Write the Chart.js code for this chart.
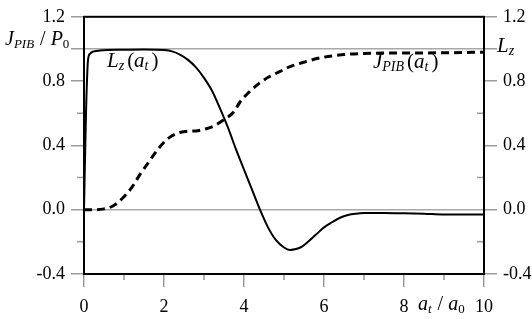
<!DOCTYPE html>
<html>
<head>
<meta charset="utf-8">
<script src="https://cdn.jsdelivr.net/npm/chart.js@4/dist/chart.umd.min.js"></script>
<style>
  html, body { margin: 0; padding: 0; background: #fff; }
  #wrap { width: 532px; height: 319px; }
</style>
</head>
<body>
<div id="wrap"><canvas id="chart"></canvas></div>
<script>
// solid curve L_z(a_t)
var lzAt   = [0, 0.05, 0.1, 0.15, 0.25, 0.4, 1.0, 1.5, 2.0, 2.2, 2.4, 2.6, 2.8, 3.0, 3.2, 3.4, 3.6, 3.8, 4.0, 4.2, 4.4, 4.6, 4.8, 5.0, 5.15, 5.3, 5.45, 5.6, 5.8, 6.0, 6.2, 6.4, 6.6, 6.8, 7.0, 7.5, 8.0, 8.5, 9.0, 9.5, 10];
var lzVals = [0, 0.6, 0.93, 0.97, 0.985, 0.99, 0.995, 0.997, 0.993, 0.985, 0.965, 0.932, 0.885, 0.82, 0.74, 0.63, 0.51, 0.375, 0.25, 0.125, 0.0, -0.11, -0.19, -0.235, -0.25, -0.245, -0.23, -0.2, -0.155, -0.11, -0.078, -0.05, -0.033, -0.025, -0.021, -0.02, -0.022, -0.025, -0.03, -0.03, -0.03];

// dashed curve J_PIB(a_t)
var jAt   = [0, 0.3, 0.5, 0.7, 0.85, 1.0, 1.2, 1.4, 1.6, 1.8, 2.0, 2.2, 2.4, 2.6, 2.8, 3.0, 3.2, 3.5, 3.75, 3.9, 4.1, 4.4, 4.65, 4.9, 5.15, 5.4, 5.9, 6.5, 7, 8, 9, 10];
var jVals = [0, 0, 0.005, 0.02, 0.045, 0.08, 0.14, 0.22, 0.29, 0.36, 0.42, 0.46, 0.48, 0.488, 0.49, 0.5, 0.515, 0.56, 0.61, 0.67, 0.725, 0.79, 0.83, 0.86, 0.89, 0.91, 0.944, 0.965, 0.972, 0.975, 0.976, 0.98];

// tick labels
var yLabels = [-0.4, 0.0, 0.4, 0.8, 1.2];
var yMinor  = [-0.2, 0.2, 0.6, 1.0];
var xLabels = [0, 2, 4, 6, 8, 10];
var xMinor  = [1, 3, 5, 7, 9];
var yLines  = [0.0, 1.0];

var tickGray = '#9c9c9c';
var serif = '"Liberation Serif", "Times New Roman", serif';

function toPts(xs, ys) {
  return xs.map(function (x, i) { return { x: x, y: ys[i] }; });
}
function isIn(list, v) {
  return list.some(function (t) { return Math.abs(t - v) < 1e-6; });
}

// draws italic / subscript runs one after another
function richText(ctx, x, y, parts, big, small, gap) {
  parts.forEach(function (p) {
    var sub = p[1].indexOf('s') > 0;
    var it = p[1][0] === 'i';
    ctx.font = (it ? 'italic ' : '') + (sub ? small : big) + 'px ' + serif;
    ctx.fillText(p[0], x, sub ? y + 3 : y);
    x += ctx.measureText(p[0]).width + (sub ? gap : 0);
  });
}

var decorations = {
  id: 'decorations',
  afterDraw: function (chart) {
    var ctx = chart.ctx, a = chart.chartArea, s = chart.scales;
    ctx.save();

    ctx.strokeStyle = tickGray;
    ctx.lineWidth = 1.5;
    ctx.beginPath();
    yMinor.forEach(function (v) {
      if (isIn(yLines, v)) return;
      var y = s.y.getPixelForValue(v);
      ctx.moveTo(a.left - 7, y); ctx.lineTo(a.left, y);
      ctx.moveTo(a.right - 7, y); ctx.lineTo(a.right, y);
    });
    xMinor.forEach(function (v) {
      var x = s.x.getPixelForValue(v);
      ctx.moveTo(x, a.bottom); ctx.lineTo(x, a.bottom + 6);
    });
    ctx.stroke();

    ctx.strokeStyle = '#000';
    ctx.lineWidth = 2;
    ctx.strokeRect(a.left, a.top, a.right - a.left, a.bottom - a.top);

    ctx.fillStyle = '#000';
    ctx.textBaseline = 'alphabetic';
    ctx.textAlign = 'left';
    richText(ctx, 5, 45, [['J', 'i'], ['PIB', 'is'], [' / ', 'r'], ['P', 'i'], ['0', 'rs']], 20, 13, 1);
    richText(ctx, 497, 52, [['L', 'i'], ['z', 'is']], 21, 14, 0);
    richText(ctx, 107, 67, [['L', 'i'], ['z', 'is'], ['(', 'r'], ['a', 'i'], ['t', 'is'], [')', 'r']], 21, 14, 3);
    richText(ctx, 373, 68, [['J', 'i'], ['PIB', 'is'], ['(', 'r'], ['a', 'i'], ['t', 'is'], [')', 'r']], 21, 14, 3);
    richText(ctx, 418, 310, [['a', 'i'], ['t', 'is'], [' / ', 'r'], ['a', 'i'], ['0', 'rs']], 20, 13, 1);
    ctx.restore();
  }
};

function yScale(pos, width) {
  return {
    type: 'linear',
    position: pos,
    min: -0.4,
    max: 1.2,
    afterFit: function (scale) { scale.width = width; },
    border: { display: false },
    grid: {
      drawOnChartArea: pos === 'left',
      tickLength: 13,
      lineWidth: 1.5,
      color: function (c) { return isIn(yLines, c.tick.value) ? '#a8a8a8' : 'rgba(0,0,0,0)'; },
      tickColor: function (c) {
        var v = c.tick.value;
        return (isIn(yLabels, v) || isIn(yLines, v)) ? tickGray : 'rgba(0,0,0,0)';
      }
    },
    ticks: {
      stepSize: 0.2,
      padding: 6,
      color: '#000',
      font: { family: serif, size: 18 },
      callback: function (v) { return isIn(yLabels, v) ? v.toFixed(1) : ''; }
    }
  };
}

var canvas = document.getElementById('chart').getContext('2d');
var chart = new Chart(canvas, {
  type: 'line',
  data: {
    datasets: [{
      label: 'L_z',
      data: toPts(lzAt, lzVals),
      borderColor: '#000',
      borderWidth: 2,
      pointRadius: 0,
      cubicInterpolationMode: 'monotone'
    }, {
      label: 'J_PIB',
      data: toPts(jAt, jVals),
      borderColor: '#000',
      borderWidth: 3,
      borderDash: [8, 5],
      pointRadius: 0,
      cubicInterpolationMode: 'monotone'
    }]
  },
  options: {
    responsive: true,
    maintainAspectRatio: false,
    animation: false,
    layout: { padding: { top: 6, left: 0, right: 0, bottom: 0 } },
    plugins: { legend: { display: false }, tooltip: { enabled: false } },
    scales: {
      x: {
        type: 'linear',
        min: 0,
        max: 10,
        afterFit: function (scale) { scale.height = 45; },
        border: { display: false },
        grid: {
          drawOnChartArea: false,
          tickLength: 13,
          lineWidth: 1.5,
          tickColor: function (c) { return isIn(xLabels, c.tick.value) ? tickGray : 'rgba(0,0,0,0)'; }
        },
        ticks: {
          stepSize: 1,
          padding: 9,
          maxRotation: 0,
          color: '#000',
          font: { family: serif, size: 18 },
          callback: function (v) { return isIn(xLabels, v) ? String(v) : ''; }
        }
      },
      y: yScale('left', 84),
      y2: yScale('right', 48)
    }
  },
  plugins: [decorations]
});
</script>
</body>
</html>
